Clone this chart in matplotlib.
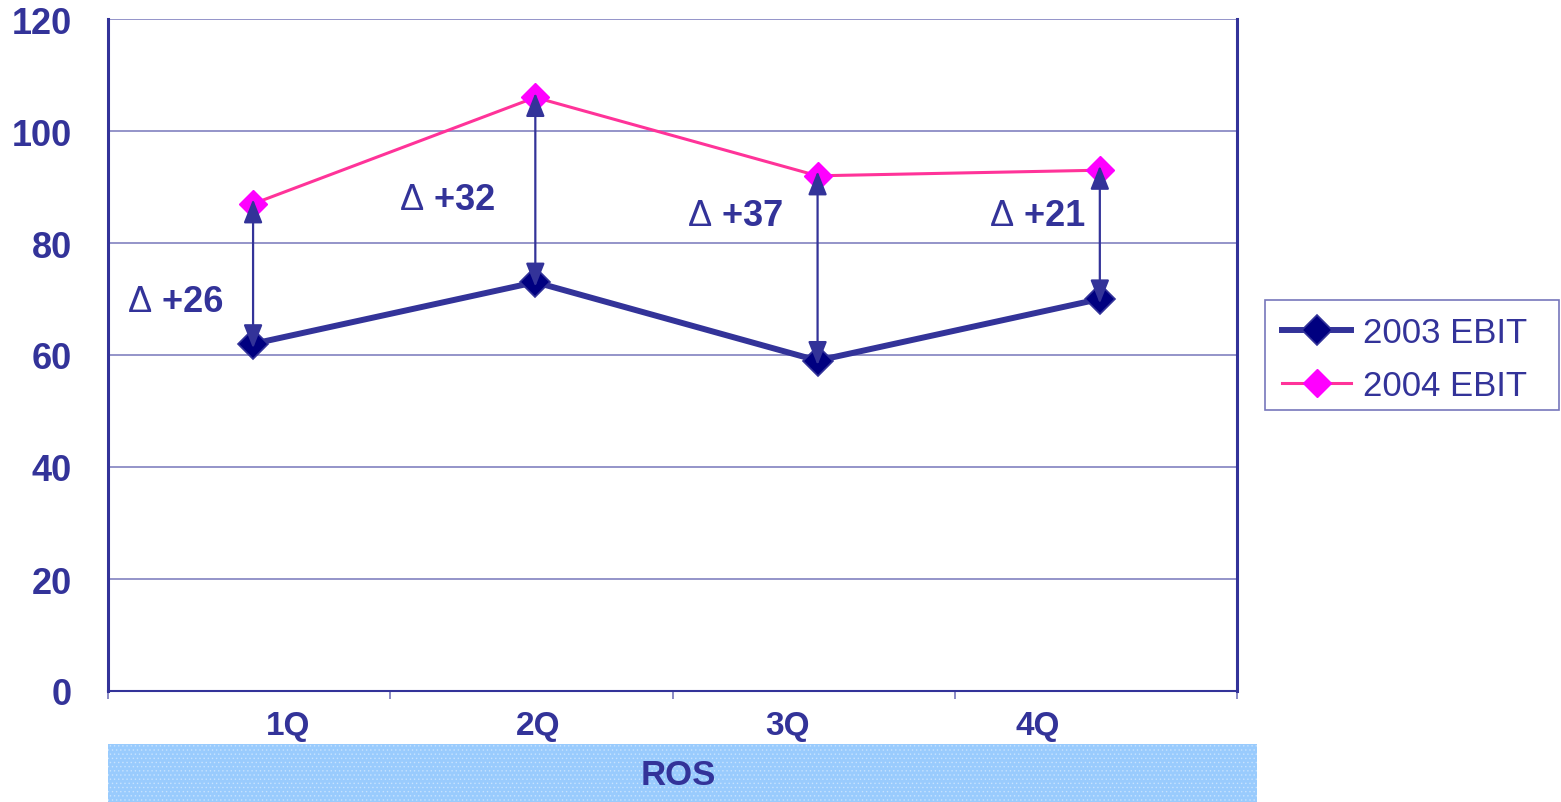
import matplotlib
matplotlib.use("Agg")
import matplotlib.pyplot as plt
from matplotlib.patches import FancyArrowPatch, Rectangle

plt.rcParams["font.family"] = ["Liberation Sans", "DejaVu Sans"]
plt.rcParams["hatch.linewidth"] = 0.6

# quarterly EBIT values
quarters = ["1Q", "2Q", "3Q", "4Q"]
ebit_2003 = [62, 73, 59, 70]
ebit_2004 = [87, 106, 92, 93]
delta_labels = ["+26", "+32", "+37", "+21"]

# label placement (left edge x, y in data units)
delta_pos = [(-0.443, 69.6), (0.521, 87.7), (1.541, 85.0), (2.611, 85.0)]
qlabel_x = [0.124, 1.010, 1.895, 2.781]

NAVY = "#333399"
NAVY_DARK = "#000080"
PINK = "#FF3399"
MAGENTA = "#FF00FF"
GRID = "#7777bb"

W, H = 1561, 803
fig = plt.figure(figsize=(W / 100, H / 100), dpi=100)
ax = fig.add_axes([108 / W, 1 - 692 / H, (1237 - 108) / W, (692 - 20) / H])

x = list(range(len(quarters)))
ax.set_xlim(-0.514, 3.486)
ax.set_ylim(0, 120)

line03, = ax.plot(x, ebit_2003, color=NAVY, lw=4.3, marker="D", ms=15,
                  mfc=NAVY_DARK, mec=NAVY, mew=1.2, zorder=3, label="2003 EBIT")
line04, = ax.plot(x, ebit_2004, color=PINK, lw=2.2, marker="D", ms=14,
                  mfc=MAGENTA, mec=MAGENTA, mew=1, zorder=3, label="2004 EBIT")

# change arrows between the two years, tips reaching just past the markers
overshoot = 0.8
for xi, lo, hi in zip(x, ebit_2003, ebit_2004):
    arrow = FancyArrowPatch((xi, lo - overshoot), (xi, hi + overshoot),
                            arrowstyle="<|-|>,head_length=0.8,head_width=0.32",
                            color=NAVY, lw=1.6, shrinkA=0, shrinkB=0,
                            mutation_scale=18, zorder=4)
    ax.add_patch(arrow)

for (px, py), txt in zip(delta_pos, delta_labels):
    t = ax.text(px, py, "\u0394", color=NAVY, fontsize=26, va="center",
                ha="left", fontweight="normal")
    ax.annotate(" " + txt, xy=(1, 0.5), xycoords=t, va="center", ha="left",
                color=NAVY, fontsize=26, fontweight="bold")

# axes styling
ax.set_yticks(range(0, 121, 20))
ax.grid(axis="y", color=GRID, lw=1.1)
ax.set_axisbelow(True)
ax.tick_params(axis="y", length=0, pad=26, labelsize=26, labelcolor=NAVY)
for lab in ax.get_yticklabels():
    lab.set_fontweight("bold")

ax.set_xticks(qlabel_x)
ax.set_xticklabels(quarters, fontsize=24, fontweight="bold", color=NAVY)
ax.tick_params(axis="x", length=0, pad=14)
ax.set_xticks([-0.514 + k for k in range(5)], minor=True)
ax.tick_params(axis="x", which="minor", length=6, width=1.2, color=GRID,
               direction="out")

ax.spines["top"].set_visible(False)
ax.spines["left"].set_color(NAVY)
ax.spines["left"].set_linewidth(2.2)
ax.spines["right"].set_color(NAVY)
ax.spines["right"].set_linewidth(2.2)
ax.spines["bottom"].set_color(NAVY)
ax.spines["bottom"].set_linewidth(1.5)

# category band under the axis, lightly speckled
band_box = ((108 / W, 0), (1257 - 108) / W, 58 / H)
fig.patches.append(Rectangle(*band_box, transform=fig.transFigure,
                             facecolor="#99CBFD", edgecolor="none", zorder=0))
fig.patches.append(Rectangle(*band_box, transform=fig.transFigure,
                             facecolor="none", edgecolor=(1, 1, 1, 0.35),
                             hatch="....", lw=0, zorder=0))
fig.text(678 / W, 1 - 776 / H, "ROS", ha="center", va="center",
         fontsize=25, fontweight="bold", color=NAVY)

# legend with its own frame
fig.patches.append(Rectangle((1265 / W, 1 - 411 / H), (1559 - 1265) / W, 110 / H,
                             transform=fig.transFigure, facecolor="white",
                             edgecolor=GRID, lw=1.2, zorder=1))
leg = fig.legend(handles=[line03, line04], loc="center left",
                 bbox_to_anchor=(1282 / W, 1 - 360 / H), fontsize=25,
                 frameon=False, handlelength=2.0, handletextpad=0.32,
                 labelspacing=0.58, borderpad=0, borderaxespad=0)
for t in leg.get_texts():
    t.set_color(NAVY)

fig.savefig("out.png", dpi=100, facecolor="white")
